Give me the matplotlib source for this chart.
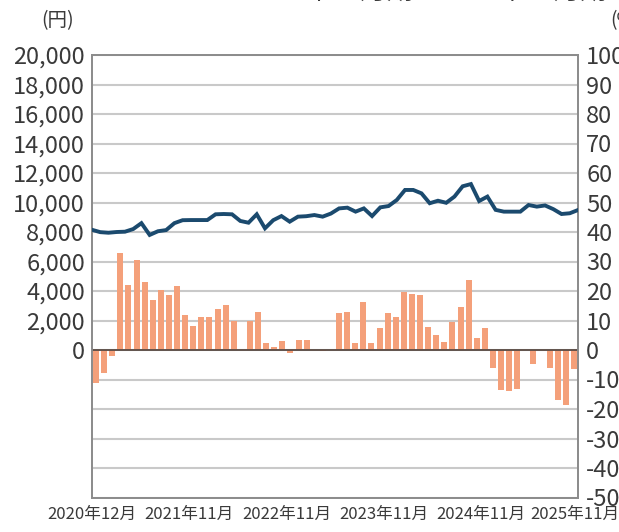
import matplotlib
matplotlib.use("Agg")
import matplotlib.pyplot as plt
import numpy as np
from matplotlib.ticker import FuncFormatter, FixedLocator
from matplotlib.transforms import ScaledTranslation

plt.rcParams['font.family'] = ['Noto Sans CJK JP', 'DejaVu Sans']

# ---- data ----
months_n = 60
bar_pct = [-11.3, -7.9, -2.2, 33.0, 22.0, 30.5, 23.0, 17.0, 20.3, 18.6,
           21.7, 11.9, 8.1, 11.2, 11.2, 14.0, 15.3, 10.0, 0.0, 10.0,
           13.0, 2.5, 1.0, 3.0, -1.0, 3.3, 3.3, 0.0, -0.5, 0.0,
           12.5, 13.0, 2.3, 16.3, 2.4, 7.4, 12.6, 11.2, 19.7, 19.0,
           18.6, 7.8, 5.0, 2.7, 9.5, 14.6, 23.7, 4.0, 7.5, -6.0,
           -13.6, -13.8, -13.3, 0.0, -4.6, 0.0, -6.0, -17.0, -18.6, -6.5]
line_yen = [8150, 7990, 7950, 8000, 8020, 8200, 8600, 7800, 8050, 8130,
            8600, 8800, 8810, 8810, 8810, 9200, 9220, 9200, 8750, 8630,
            9200, 8250, 8800, 9080, 8700, 9040, 9070, 9150, 9040, 9250,
            9600, 9650, 9380, 9600, 9080, 9670, 9760, 10170, 10850, 10850,
            10620, 9950, 10120, 9980, 10400, 11100, 11250, 10100, 10400, 9500,
            9380, 9380, 9380, 9830, 9720, 9800, 9550, 9220, 9270, 9490]
xtick_labels = ['2020年12月', '2021年11月', '2022年11月', '2023年11月', '2024年11月', '2025年11月']
xtick_pos = [0, 12, 24, 36, 48, 60]

bar_color = '#f4a07a'
line_color = '#1b4a6e'
grid_color = '#c9c9c9'
frame_color = '#8c8c8c'
text_color = '#3a3a3a'

fig = plt.figure(figsize=(6.19, 5.32), dpi=100)
ax = fig.add_axes([92/619, 1-497.5/532, (578-92)/619, (497.5-55)/532])
ax2 = ax.twinx()

# left axis: yen (line) -- on top, transparent
ax.set_zorder(ax2.get_zorder() + 1)
ax.patch.set_visible(False)
ax.set_ylim(-10000, 20000)
ax.set_xlim(0, months_n)
ax.yaxis.set_major_locator(FixedLocator(np.arange(-10000, 20001, 2000)))
ax.yaxis.set_major_formatter(FuncFormatter(lambda v, p: '' if v < 0 else f'{int(v):,}'))
ax.tick_params(axis='y', length=0, pad=5, labelsize=17, labelcolor=text_color)
ax.set_xticks(xtick_pos)
ax.set_xticklabels(xtick_labels)
ax.tick_params(axis='x', length=0, pad=6, labelsize=12, labelcolor=text_color)
last = ax.get_xticklabels()[-1]
last.set_transform(last.get_transform() + ScaledTranslation(-0.03, 0, fig.dpi_scale_trans))

# right axis: % (bars) with grid
ax2.set_ylim(-50, 100)
ax2.yaxis.set_major_locator(FixedLocator(np.arange(-50, 101, 10)))
ax2.yaxis.set_major_formatter(FuncFormatter(lambda v, p: f'{int(v)}'))
ax2.tick_params(axis='y', length=0, pad=6, labelsize=17, labelcolor=text_color)
ax2.grid(axis='y', color=grid_color, linewidth=1.5, zorder=0)
ax2.set_axisbelow(True)

xb = np.arange(months_n) + 0.5
ax2.bar(xb, bar_pct, width=0.74, color=bar_color, edgecolor='none', zorder=2)
ax2.axhline(0, color='#5a4a44', linewidth=1.3, zorder=3)

xl = np.linspace(0, months_n, len(line_yen))
ax.plot(xl, line_yen, color=line_color, linewidth=2.8, solid_joinstyle='miter', zorder=5)

for a in (ax, ax2):
    for s in a.spines.values():
        s.set_color(frame_color)
        s.set_linewidth(1.3)

fig.text(58/619, 1-21/532, '(円)', ha='center', va='center', fontsize=14, color=text_color)
fig.text(610/619, 1-21/532, '(%)', ha='left', va='center', fontsize=14, color=text_color)
fig.text(427/619, 1-5/532, '2020年12月期～2025年11月期', ha='center', va='bottom',
         fontsize=19, color=text_color)

fig.savefig('out.png', dpi=100)
